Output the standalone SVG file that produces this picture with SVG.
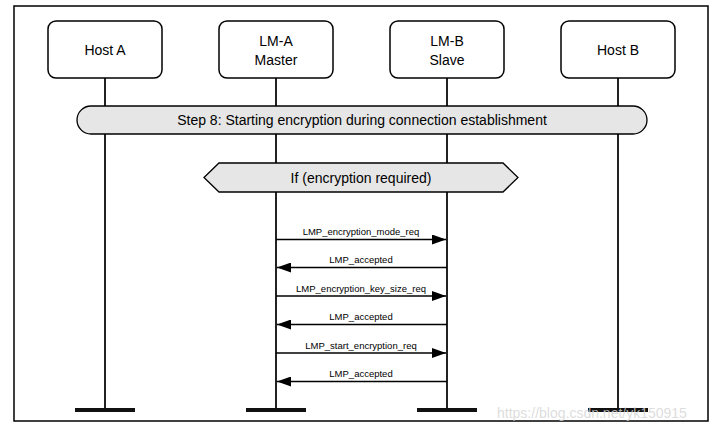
<svg xmlns="http://www.w3.org/2000/svg" width="720" height="432" viewBox="0 0 720 432">
<style>
.box{fill:#fff;stroke:#000;stroke-width:1.5}
.t{font-family:"Liberation Sans",Arial,sans-serif;font-size:14px;fill:#000;text-anchor:middle}
.m{font-family:"Liberation Sans",Arial,sans-serif;font-size:9.5px;fill:#000;text-anchor:middle}
.life{stroke:#222;stroke-width:2;fill:none}
.bar{stroke:#111;stroke-width:4;fill:none}
.msg{stroke:#000;stroke-width:1.3;fill:none;marker-end:url(#ah)}
.band{fill:#e6e6e6;stroke:#000;stroke-width:1.3}
</style>
<defs>
<marker id="ah" viewBox="0 0 14 10" refX="14" refY="5" markerWidth="14" markerHeight="10" markerUnits="userSpaceOnUse" orient="auto">
<path d="M0,0 L14,5 L0,10 Z" fill="#000"/>
</marker>
</defs>
<rect x="0" y="0" width="720" height="432" fill="#fff"/>
<rect x="14" y="6" width="694" height="415" fill="none" stroke="#000" stroke-width="1.5"/>
<g id="lifelines">
<line class="life" x1="105" y1="78" x2="105" y2="410"/>
<line class="life" x1="276" y1="78" x2="276" y2="410"/>
<line class="life" x1="447" y1="78" x2="447" y2="410"/>
<line class="life" x1="618" y1="78" x2="618" y2="410"/>
<line class="bar" x1="75" y1="410" x2="135" y2="410"/>
<line class="bar" x1="246" y1="410" x2="306" y2="410"/>
<line class="bar" x1="417" y1="410" x2="477" y2="410"/>
<line class="bar" x1="588" y1="410" x2="648" y2="410"/>
</g>
<g id="hostA"><rect class="box" x="48" y="21" width="114" height="57" rx="8"/><text class="t" x="105" y="55">Host A</text></g>
<g id="lmA"><rect class="box" x="219" y="21" width="114" height="57" rx="8"/><text class="t" x="276" y="46">LM-A</text><text class="t" x="276" y="65">Master</text></g>
<g id="lmB"><rect class="box" x="390" y="21" width="114" height="57" rx="8"/><text class="t" x="447" y="46">LM-B</text><text class="t" x="447" y="65">Slave</text></g>
<g id="hostB"><rect class="box" x="561" y="21" width="114" height="57" rx="8"/><text class="t" x="618" y="55">Host B</text></g>
<g id="step8"><rect class="band" x="77" y="106" width="570" height="28" rx="14"/><text class="t" x="362" y="125">Step 8: Starting encryption during connection establishment</text></g>
<g id="cond"><polygon class="band" points="204,177.5 219,163 503,163 518,177.5 503,192 219,192"/><text class="t" x="361" y="183">If (encryption required)</text></g>
<g id="connectors">
<line class="msg" x1="276" y1="239.5" x2="446" y2="239.5"/>
<text class="m" x="361" y="235">LMP_encryption_mode_req</text>
<line class="msg" x1="447" y1="267.5" x2="277" y2="267.5"/>
<text class="m" x="361" y="263">LMP_accepted</text>
<line class="msg" x1="276" y1="296" x2="446" y2="296"/>
<text class="m" x="361" y="291.5">LMP_encryption_key_size_req</text>
<line class="msg" x1="447" y1="324.5" x2="277" y2="324.5"/>
<text class="m" x="361" y="320">LMP_accepted</text>
<line class="msg" x1="276" y1="353" x2="446" y2="353"/>
<text class="m" x="361" y="348.5">LMP_start_encryption_req</text>
<line class="msg" x1="447" y1="381.5" x2="277" y2="381.5"/>
<text class="m" x="361" y="377">LMP_accepted</text>
</g>
<text x="497" y="418" font-family="'Liberation Sans',Arial,sans-serif" font-size="14" fill="#d4d4d4" fill-opacity="0.8">https://blog.csdn.net/yk150915</text>
</svg>
